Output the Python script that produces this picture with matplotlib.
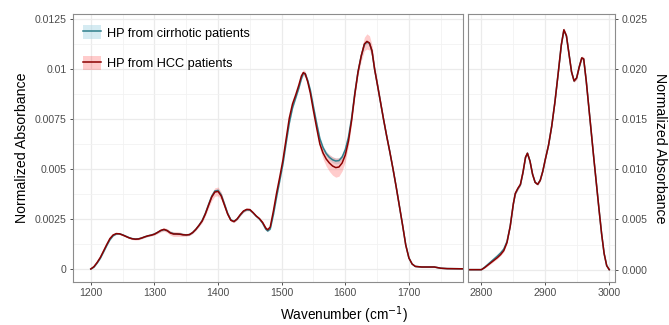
import matplotlib
matplotlib.use("Agg")
import matplotlib.pyplot as plt
from matplotlib.patches import Patch
from matplotlib.lines import Line2D
from matplotlib.ticker import FixedLocator

plt.rcParams["font.family"] = ["Liberation Sans", "DejaVu Sans"]

# ---- fingerprint region (1200-1785 cm-1) ----
wn_low = [1200, 1205, 1210, 1215, 1220, 1225, 1230, 1235, 1240, 1245,
          1250, 1255, 1260, 1265, 1270, 1275, 1280, 1285, 1290, 1295,
          1300, 1305, 1310, 1315, 1320, 1325, 1330, 1335, 1340, 1345,
          1350, 1355, 1360, 1365, 1370, 1375, 1380, 1385, 1390, 1395,
          1400, 1405, 1410, 1415, 1420, 1425, 1430, 1435, 1440, 1445,
          1450, 1455, 1460, 1465, 1470, 1475, 1478, 1482, 1487, 1492,
          1497, 1502, 1507, 1512, 1517, 1522, 1527, 1531, 1534, 1537,
          1541, 1545, 1550, 1555, 1560, 1565, 1570, 1575, 1580, 1585,
          1590, 1595, 1600, 1605, 1610, 1615, 1620, 1625, 1630, 1634,
          1638, 1642, 1646, 1650, 1655, 1660, 1665, 1670, 1675, 1680,
          1685, 1690, 1695, 1700, 1705, 1710, 1720, 1730, 1740, 1750,
          1760, 1785]
hcc_low = [0.00000, 0.00012, 0.00033, 0.00058, 0.00090, 0.00122, 0.00152, 0.00170, 0.00177, 0.00176,
           0.00170, 0.00163, 0.00156, 0.00151, 0.00149, 0.00150, 0.00155, 0.00161, 0.00166, 0.00169,
           0.00174, 0.00183, 0.00193, 0.00198, 0.00192, 0.00180, 0.00175, 0.00175, 0.00174, 0.00171,
           0.00170, 0.00172, 0.00182, 0.00198, 0.00218, 0.00240, 0.00275, 0.00318, 0.00360, 0.00385,
           0.00388, 0.00365, 0.00320, 0.00275, 0.00244, 0.00237, 0.00250, 0.00272, 0.00290, 0.00298,
           0.00297, 0.00282, 0.00265, 0.00252, 0.00233, 0.00205, 0.00196, 0.00210, 0.00290, 0.00380,
           0.00460, 0.00545, 0.00650, 0.00755, 0.00825, 0.00870, 0.00920, 0.00965, 0.00982, 0.00975,
           0.00935, 0.00880, 0.00790, 0.00705, 0.00625, 0.00580, 0.00550, 0.00530, 0.00515, 0.00507,
           0.00510, 0.00530, 0.00570, 0.00640, 0.00745, 0.00875, 0.00985, 0.01065, 0.01125, 0.01138,
           0.01130, 0.01090, 0.01000, 0.00930, 0.00840, 0.00750, 0.00665, 0.00585, 0.00500, 0.00410,
           0.00315, 0.00220, 0.00120, 0.00055, 0.00025, 0.00013, 0.00010, 0.00010, 0.00010, 0.00004,
           0.00002, 0.00001]
cirr_low = [0.00000, 0.00010, 0.00030, 0.00054, 0.00085, 0.00117, 0.00146, 0.00166, 0.00175, 0.00176,
            0.00171, 0.00164, 0.00157, 0.00152, 0.00150, 0.00151, 0.00155, 0.00161, 0.00166, 0.00170,
            0.00175, 0.00183, 0.00192, 0.00197, 0.00192, 0.00182, 0.00177, 0.00176, 0.00175, 0.00172,
            0.00171, 0.00172, 0.00182, 0.00198, 0.00218, 0.00242, 0.00278, 0.00322, 0.00364, 0.00390,
            0.00393, 0.00370, 0.00325, 0.00279, 0.00246, 0.00238, 0.00250, 0.00270, 0.00288, 0.00296,
            0.00295, 0.00281, 0.00264, 0.00250, 0.00229, 0.00199, 0.00190, 0.00200, 0.00272, 0.00360,
            0.00442, 0.00525, 0.00630, 0.00730, 0.00805, 0.00855, 0.00905, 0.00952, 0.00978, 0.00977,
            0.00942, 0.00895, 0.00810, 0.00728, 0.00652, 0.00607, 0.00577, 0.00558, 0.00546, 0.00540,
            0.00542, 0.00560, 0.00597, 0.00660, 0.00757, 0.00880, 0.00987, 0.01065, 0.01123, 0.01135,
            0.01128, 0.01088, 0.01000, 0.00930, 0.00840, 0.00750, 0.00665, 0.00585, 0.00500, 0.00410,
            0.00315, 0.00220, 0.00120, 0.00055, 0.00025, 0.00013, 0.00010, 0.00010, 0.00010, 0.00004,
            0.00002, 0.00001]
hcc_low_sd = [0.00003, 0.00003, 0.00003, 0.00004, 0.00004, 0.00004, 0.00004, 0.00004, 0.00004, 0.00004,
              0.00004, 0.00004, 0.00004, 0.00004, 0.00004, 0.00004, 0.00004, 0.00004, 0.00004, 0.00004,
              0.00005, 0.00006, 0.00008, 0.00009, 0.00010, 0.00011, 0.00012, 0.00012, 0.00011, 0.00008,
              0.00006, 0.00005, 0.00005, 0.00006, 0.00007, 0.00008, 0.00010, 0.00014, 0.00018, 0.00021,
              0.00022, 0.00020, 0.00016, 0.00011, 0.00007, 0.00005, 0.00005, 0.00006, 0.00007, 0.00007,
              0.00006, 0.00005, 0.00005, 0.00005, 0.00005, 0.00005, 0.00005, 0.00005, 0.00006, 0.00006,
              0.00007, 0.00008, 0.00009, 0.00010, 0.00010, 0.00011, 0.00012, 0.00014, 0.00015, 0.00014,
              0.00012, 0.00012, 0.00014, 0.00018, 0.00024, 0.00030, 0.00036, 0.00042, 0.00046, 0.00048,
              0.00046, 0.00040, 0.00032, 0.00024, 0.00018, 0.00016, 0.00018, 0.00026, 0.00034, 0.00038,
              0.00036, 0.00030, 0.00025, 0.00020, 0.00015, 0.00012, 0.00010, 0.00009, 0.00008, 0.00007,
              0.00006, 0.00005, 0.00004, 0.00004, 0.00003, 0.00003, 0.00003, 0.00003, 0.00003, 0.00002,
              0.00002, 0.00002]
cirr_low_sd = [0.00002, 0.00002, 0.00002, 0.00003, 0.00003, 0.00003, 0.00003, 0.00003, 0.00003, 0.00003,
               0.00003, 0.00003, 0.00003, 0.00003, 0.00003, 0.00003, 0.00003, 0.00003, 0.00003, 0.00003,
               0.00003, 0.00004, 0.00004, 0.00005, 0.00005, 0.00005, 0.00005, 0.00005, 0.00005, 0.00004,
               0.00004, 0.00004, 0.00004, 0.00004, 0.00004, 0.00005, 0.00005, 0.00006, 0.00007, 0.00008,
               0.00008, 0.00008, 0.00007, 0.00006, 0.00005, 0.00004, 0.00004, 0.00004, 0.00004, 0.00004,
               0.00004, 0.00004, 0.00004, 0.00004, 0.00004, 0.00004, 0.00004, 0.00004, 0.00005, 0.00005,
               0.00005, 0.00005, 0.00006, 0.00006, 0.00006, 0.00006, 0.00007, 0.00007, 0.00007, 0.00007,
               0.00007, 0.00007, 0.00008, 0.00009, 0.00010, 0.00011, 0.00012, 0.00013, 0.00014, 0.00015,
               0.00014, 0.00013, 0.00011, 0.00010, 0.00009, 0.00008, 0.00008, 0.00008, 0.00009, 0.00009,
               0.00009, 0.00009, 0.00008, 0.00008, 0.00007, 0.00006, 0.00006, 0.00005, 0.00005, 0.00004,
               0.00004, 0.00003, 0.00003, 0.00003, 0.00002, 0.00002, 0.00002, 0.00002, 0.00002, 0.00002,
               0.00002, 0.00002]

# ---- C-H stretching region (2780-3000 cm-1) ----
wn_high = [2780, 2790, 2800, 2805, 2810, 2815, 2820, 2825, 2830, 2835,
           2840, 2845, 2850, 2853, 2857, 2861, 2865, 2869, 2872, 2876,
           2880, 2884, 2888, 2892, 2896, 2900, 2905, 2910, 2915, 2920,
           2925, 2929, 2933, 2937, 2941, 2945, 2949, 2953, 2957, 2960,
           2964, 2968, 2972, 2976, 2980, 2984, 2988, 2992, 2996, 3000]
hcc_high = [0.0, 0.0, 0.0, 0.00020, 0.00045, 0.00070, 0.00095, 0.00120, 0.00150, 0.00190,
            0.00270, 0.00430, 0.00660, 0.00760, 0.00810, 0.00850, 0.00970, 0.01120, 0.01160, 0.01080,
            0.00950, 0.00870, 0.00850, 0.00890, 0.00980, 0.01100, 0.01240, 0.01430, 0.01670, 0.01950,
            0.02240, 0.02390, 0.02330, 0.02150, 0.01970, 0.01880, 0.01910, 0.02020, 0.02110, 0.02100,
            0.01880, 0.01620, 0.01360, 0.01100, 0.00850, 0.00600, 0.00360, 0.00160, 0.00040, 0.0]
cirr_high = [0.0, 0.0, 0.0, 0.00024, 0.00052, 0.00080, 0.00108, 0.00136, 0.00167, 0.00205,
             0.00280, 0.00432, 0.00655, 0.00755, 0.00805, 0.00845, 0.00965, 0.01118, 0.01160, 0.01082,
             0.00952, 0.00870, 0.00850, 0.00890, 0.00980, 0.01100, 0.01240, 0.01430, 0.01670, 0.01950,
             0.02238, 0.02385, 0.02328, 0.02150, 0.01970, 0.01880, 0.01910, 0.02018, 0.02108, 0.02098,
             0.01880, 0.01620, 0.01360, 0.01100, 0.00850, 0.00600, 0.00360, 0.00160, 0.00040, 0.0]
hcc_high_sd = [0.00003, 0.00003, 0.00003, 0.00006, 0.00008, 0.00010, 0.00010, 0.00011, 0.00012, 0.00012,
               0.00012, 0.00013, 0.00014, 0.00016, 0.00018, 0.00016, 0.00014, 0.00014, 0.00014, 0.00013,
               0.00012, 0.00012, 0.00012, 0.00012, 0.00012, 0.00013, 0.00014, 0.00015, 0.00016, 0.00018,
               0.00020, 0.00022, 0.00020, 0.00018, 0.00016, 0.00016, 0.00017, 0.00018, 0.00020, 0.00020,
               0.00018, 0.00016, 0.00014, 0.00012, 0.00010, 0.00009, 0.00008, 0.00006, 0.00004, 0.00003]
cirr_high_sd = [0.00002, 0.00002, 0.00002, 0.00005, 0.00007, 0.00008, 0.00009, 0.00010, 0.00010, 0.00010,
                0.00008, 0.00007, 0.00007, 0.00008, 0.00008, 0.00008, 0.00007, 0.00007, 0.00007, 0.00007,
                0.00007, 0.00007, 0.00007, 0.00007, 0.00007, 0.00007, 0.00008, 0.00008, 0.00008, 0.00009,
                0.00010, 0.00010, 0.00010, 0.00009, 0.00008, 0.00008, 0.00008, 0.00009, 0.00010, 0.00010,
                0.00009, 0.00008, 0.00007, 0.00006, 0.00005, 0.00005, 0.00004, 0.00003, 0.00003, 0.00002]

labels = ["HP from cirrhotic patients", "HP from HCC patients"]
line_colors = ["#2f7f8c", "#8b0000"]
fill_colors = ["#add8e6", "#ff0000"]
fill_alpha = [0.5, 0.2]

low_yticks = [0, 0.0025, 0.005, 0.0075, 0.01, 0.0125]
low_ylabels = ["0", "0.0025", "0.005", "0.0075", "0.01", "0.0125"]
high_yticks = [0, 0.005, 0.010, 0.015, 0.020, 0.025]
high_ylabels = ["0.000", "0.005", "0.010", "0.015", "0.020", "0.025"]


def style_axis(ax, xmaj, xmin, ymaj, ymin):
    ax.xaxis.set_major_locator(FixedLocator(xmaj))
    ax.xaxis.set_minor_locator(FixedLocator(xmin))
    ax.yaxis.set_major_locator(FixedLocator(ymaj))
    ax.yaxis.set_minor_locator(FixedLocator(ymin))
    ax.grid(True, which="major", color="#ebebeb", lw=0.9)
    ax.grid(True, which="minor", color="#f2f2f2", lw=0.6)
    ax.set_axisbelow(True)
    ax.tick_params(which="major", length=2.5, width=0.6, color="#333333",
                   labelsize=7.6, labelcolor="#4d4d4d", pad=2)
    ax.tick_params(which="minor", length=0)
    for sp in ax.spines.values():
        sp.set_color("#8c8c8c")
        sp.set_linewidth(0.8)


def draw_panel(ax, wn, means, sds):
    for i in range(2):
        lo = [m - s for m, s in zip(means[i], sds[i])]
        hi = [m + s for m, s in zip(means[i], sds[i])]
        ax.fill_between(wn, lo, hi, color=fill_colors[i], alpha=fill_alpha[i], lw=0)
    for i in range(2):
        ax.plot(wn, means[i], color=line_colors[i], lw=1.1)


fig = plt.figure(figsize=(6.69, 3.25), dpi=100)
ax1 = fig.add_axes([73 / 669, 1 - 282 / 325, 390 / 669, 268 / 325])
ax2 = fig.add_axes([468 / 669, 1 - 282 / 325, 147 / 669, 268 / 325])

draw_panel(ax1, wn_low, [cirr_low, hcc_low], [cirr_low_sd, hcc_low_sd])
draw_panel(ax2, wn_high, [cirr_high, hcc_high], [cirr_high_sd, hcc_high_sd])

ax1.set_xlim(1172, 1785)
ax1.set_ylim(-0.00065, 0.01275)
style_axis(ax1, [1200, 1300, 1400, 1500, 1600, 1700],
           [1250, 1350, 1450, 1550, 1650, 1750],
           low_yticks, [0.00125, 0.00375, 0.00625, 0.00875, 0.01125])
ax1.set_yticklabels(low_ylabels)
ax1.set_ylabel("Normalized Absorbance", fontsize=10.2, labelpad=4)

ax2.set_xlim(2779, 3009)
ax2.set_ylim(-0.00123, 0.02547)
style_axis(ax2, [2800, 2900, 3000], [2850, 2950],
           high_yticks, [0.0025, 0.0075, 0.0125, 0.0175, 0.0225])
ax2.set_yticklabels(high_ylabels)
ax2.yaxis.tick_right()
ax2.yaxis.set_label_position("right")
ax2.set_ylabel("Normalized Absorbance", fontsize=10.2, rotation=270,
               va="bottom", labelpad=4)

fig.text(344 / 669, 1 - 315 / 325, "Wavenumber (cm$^{-1}$)", fontsize=9.8,
         ha="center", va="center")

handles = []
for i in range(2):
    handles.append((Patch(facecolor=fill_colors[i], alpha=fill_alpha[i], lw=0),
                    Line2D([], [], color=line_colors[i], lw=1.1)))
ax1.legend(handles, labels, loc="upper left", bbox_to_anchor=(0.026, 0.958),
           frameon=False, fontsize=9.2, borderaxespad=0, borderpad=0,
           handlelength=1.4, handleheight=1.3, handletextpad=0.5,
           labelspacing=1.3)

fig.savefig("out.png", dpi=100)
